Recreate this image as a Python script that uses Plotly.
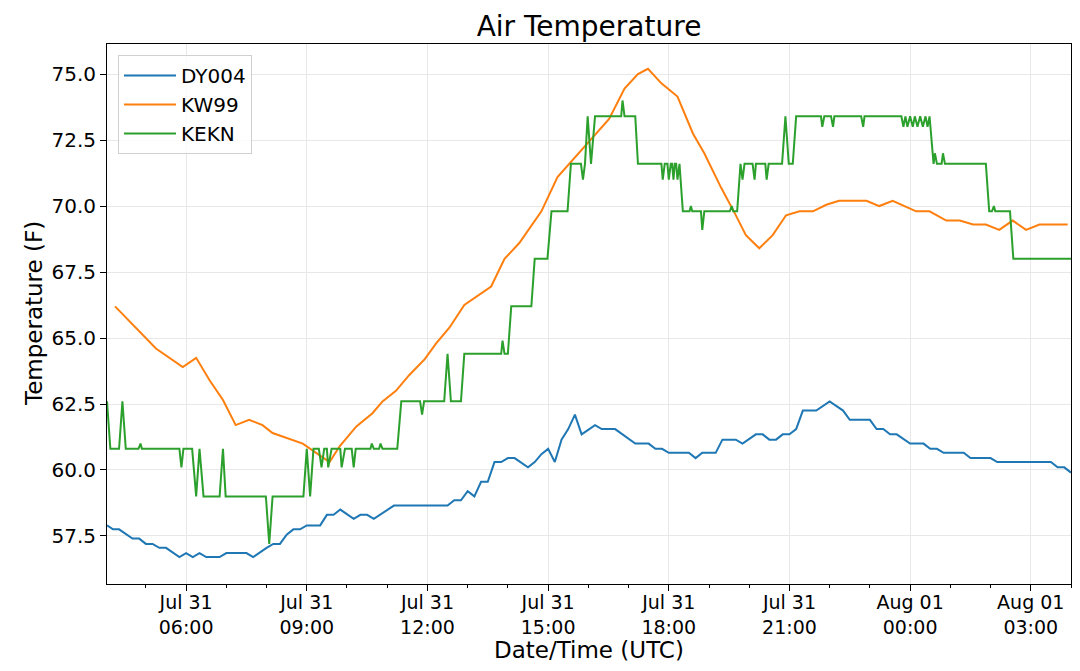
import plotly.graph_objects as go

# ---------------- data ----------------
dy004_time = [
    "2019-07-31 04:02", "2019-07-31 04:11", "2019-07-31 04:20", "2019-07-31 04:40", "2019-07-31 04:50",
    "2019-07-31 05:00", "2019-07-31 05:10", "2019-07-31 05:20", "2019-07-31 05:30", "2019-07-31 05:50",
    "2019-07-31 06:00", "2019-07-31 06:10", "2019-07-31 06:20", "2019-07-31 06:30", "2019-07-31 06:50",
    "2019-07-31 07:00", "2019-07-31 07:30", "2019-07-31 07:40", "2019-07-31 08:00", "2019-07-31 08:10",
    "2019-07-31 08:20", "2019-07-31 08:30", "2019-07-31 08:40", "2019-07-31 08:50", "2019-07-31 09:00",
    "2019-07-31 09:20", "2019-07-31 09:30", "2019-07-31 09:40", "2019-07-31 09:50", "2019-07-31 10:10",
    "2019-07-31 10:20", "2019-07-31 10:30", "2019-07-31 10:40", "2019-07-31 11:10", "2019-07-31 12:30",
    "2019-07-31 12:40", "2019-07-31 12:50", "2019-07-31 13:00", "2019-07-31 13:10", "2019-07-31 13:20",
    "2019-07-31 13:30", "2019-07-31 13:40", "2019-07-31 13:50", "2019-07-31 14:00", "2019-07-31 14:10",
    "2019-07-31 14:30", "2019-07-31 14:40", "2019-07-31 14:50", "2019-07-31 15:00", "2019-07-31 15:10",
    "2019-07-31 15:20", "2019-07-31 15:30", "2019-07-31 15:40", "2019-07-31 15:50", "2019-07-31 16:10",
    "2019-07-31 16:20", "2019-07-31 16:40", "2019-07-31 17:10", "2019-07-31 17:30", "2019-07-31 17:40",
    "2019-07-31 17:50", "2019-07-31 18:00", "2019-07-31 18:30", "2019-07-31 18:40", "2019-07-31 18:50",
    "2019-07-31 19:10", "2019-07-31 19:20", "2019-07-31 19:40", "2019-07-31 19:50", "2019-07-31 20:10",
    "2019-07-31 20:20", "2019-07-31 20:30", "2019-07-31 20:40", "2019-07-31 20:50", "2019-07-31 21:00",
    "2019-07-31 21:10", "2019-07-31 21:20", "2019-07-31 21:40", "2019-07-31 22:00", "2019-07-31 22:20",
    "2019-07-31 22:30", "2019-07-31 23:00", "2019-07-31 23:10", "2019-07-31 23:20", "2019-07-31 23:30",
    "2019-07-31 23:40", "2019-08-01 00:00", "2019-08-01 00:20", "2019-08-01 00:30", "2019-08-01 00:40",
    "2019-08-01 00:50", "2019-08-01 01:20", "2019-08-01 01:30", "2019-08-01 02:00", "2019-08-01 02:10",
    "2019-08-01 03:30", "2019-08-01 03:40", "2019-08-01 03:50", "2019-08-01 04:00",
]
dy004_temp = [
    57.9, 57.75, 57.75, 57.4, 57.4,
    57.2, 57.2, 57.05, 57.05, 56.7,
    56.85, 56.7, 56.85, 56.7, 56.7,
    56.85, 56.85, 56.7, 57.05, 57.2,
    57.2, 57.55, 57.75, 57.75, 57.9,
    57.9, 58.3, 58.3, 58.5, 58.15,
    58.3, 58.3, 58.15, 58.65, 58.65,
    58.85, 58.85, 59.2, 59.0, 59.55,
    59.55, 60.3, 60.3, 60.45, 60.45,
    60.1, 60.3, 60.6, 60.8, 60.3,
    61.15, 61.55, 62.1, 61.35, 61.7,
    61.55, 61.55, 61.0, 61.0, 60.8,
    60.8, 60.65, 60.65, 60.45, 60.65,
    60.65, 61.15, 61.15, 61.0, 61.35,
    61.35, 61.15, 61.15, 61.35, 61.35,
    61.55, 62.25, 62.25, 62.6, 62.25,
    61.9, 61.9, 61.55, 61.55, 61.35,
    61.35, 61.0, 61.0, 60.8, 60.8,
    60.65, 60.65, 60.45, 60.45, 60.3,
    60.3, 60.1, 60.1, 59.9,
]

kw99_time = [
    "2019-07-31 04:14", "2019-07-31 05:15", "2019-07-31 05:55", "2019-07-31 06:15", "2019-07-31 06:35",
    "2019-07-31 06:55", "2019-07-31 07:14", "2019-07-31 07:34", "2019-07-31 07:54", "2019-07-31 08:09",
    "2019-07-31 08:54", "2019-07-31 09:34", "2019-07-31 09:49", "2019-07-31 10:14", "2019-07-31 10:38",
    "2019-07-31 10:53", "2019-07-31 11:13", "2019-07-31 11:33", "2019-07-31 11:56", "2019-07-31 12:13",
    "2019-07-31 12:33", "2019-07-31 12:55", "2019-07-31 13:35", "2019-07-31 13:55", "2019-07-31 14:17",
    "2019-07-31 14:50", "2019-07-31 15:14", "2019-07-31 15:37", "2019-07-31 15:52", "2019-07-31 16:11",
    "2019-07-31 16:31", "2019-07-31 16:54", "2019-07-31 17:14", "2019-07-31 17:29", "2019-07-31 17:49",
    "2019-07-31 18:13", "2019-07-31 18:36", "2019-07-31 18:53", "2019-07-31 19:18", "2019-07-31 19:38",
    "2019-07-31 19:55", "2019-07-31 20:15", "2019-07-31 20:35", "2019-07-31 20:55", "2019-07-31 21:15",
    "2019-07-31 21:35", "2019-07-31 21:55", "2019-07-31 22:14", "2019-07-31 22:55", "2019-07-31 23:14",
    "2019-07-31 23:34", "2019-08-01 00:09", "2019-08-01 00:29", "2019-08-01 00:54", "2019-08-01 01:14",
    "2019-08-01 01:34", "2019-08-01 01:53", "2019-08-01 02:13", "2019-08-01 02:33", "2019-08-01 02:53",
    "2019-08-01 03:13", "2019-08-01 03:55",
]
kw99_temp = [
    66.2, 64.6, 63.9, 64.25, 63.4,
    62.65, 61.7, 61.9, 61.7, 61.4,
    61.0, 60.3, 60.9, 61.65, 62.15,
    62.6, 63.0, 63.6, 64.2, 64.8,
    65.4, 66.25, 66.95, 68.0, 68.6,
    69.8, 71.1, 71.75, 72.2, 72.7,
    73.3, 74.45, 75.0, 75.2, 74.65,
    74.15, 72.75, 72.0, 70.7, 69.75,
    68.9, 68.4, 68.9, 69.65, 69.8,
    69.8, 70.05, 70.2, 70.2, 70.0,
    70.2, 69.8, 69.8, 69.45, 69.45,
    69.3, 69.3, 69.1, 69.45, 69.1,
    69.3, 69.3,
]

kekn_time = [
    "2019-07-31 04:02", "2019-07-31 04:07", "2019-07-31 04:20", "2019-07-31 04:25", "2019-07-31 04:30", "2019-07-31 04:49", "2019-07-31 04:52", "2019-07-31 04:54",
    "2019-07-31 05:50", "2019-07-31 05:53", "2019-07-31 05:56", "2019-07-31 06:09", "2019-07-31 06:15", "2019-07-31 06:20", "2019-07-31 06:26", "2019-07-31 06:50",
    "2019-07-31 06:55", "2019-07-31 06:59", "2019-07-31 07:59", "2019-07-31 08:04", "2019-07-31 08:09", "2019-07-31 08:55", "2019-07-31 09:00", "2019-07-31 09:05",
    "2019-07-31 09:10", "2019-07-31 09:18", "2019-07-31 09:22", "2019-07-31 09:26", "2019-07-31 09:30", "2019-07-31 09:32", "2019-07-31 09:37", "2019-07-31 09:50",
    "2019-07-31 09:52", "2019-07-31 09:57", "2019-07-31 10:07", "2019-07-31 10:10", "2019-07-31 10:13", "2019-07-31 10:35", "2019-07-31 10:37", "2019-07-31 10:40",
    "2019-07-31 10:48", "2019-07-31 10:50", "2019-07-31 10:53", "2019-07-31 11:15", "2019-07-31 11:21", "2019-07-31 11:49", "2019-07-31 11:52", "2019-07-31 11:55",
    "2019-07-31 12:25", "2019-07-31 12:30", "2019-07-31 12:35", "2019-07-31 12:50", "2019-07-31 12:55", "2019-07-31 13:50", "2019-07-31 13:52", "2019-07-31 13:55",
    "2019-07-31 14:00", "2019-07-31 14:05", "2019-07-31 14:35", "2019-07-31 14:40", "2019-07-31 14:59", "2019-07-31 15:05", "2019-07-31 15:29", "2019-07-31 15:34",
    "2019-07-31 15:49", "2019-07-31 15:52", "2019-07-31 15:55", "2019-07-31 15:59", "2019-07-31 16:04", "2019-07-31 16:10", "2019-07-31 16:49", "2019-07-31 16:51",
    "2019-07-31 16:54", "2019-07-31 17:10", "2019-07-31 17:14", "2019-07-31 17:49", "2019-07-31 17:51", "2019-07-31 17:54", "2019-07-31 17:58", "2019-07-31 18:00",
    "2019-07-31 18:03", "2019-07-31 18:05", "2019-07-31 18:07", "2019-07-31 18:09", "2019-07-31 18:11", "2019-07-31 18:13", "2019-07-31 18:16", "2019-07-31 18:21",
    "2019-07-31 18:31", "2019-07-31 18:33", "2019-07-31 18:35", "2019-07-31 18:48", "2019-07-31 18:50", "2019-07-31 18:53", "2019-07-31 19:31", "2019-07-31 19:34",
    "2019-07-31 19:36", "2019-07-31 19:42", "2019-07-31 19:47", "2019-07-31 19:50", "2019-07-31 19:53", "2019-07-31 20:05", "2019-07-31 20:08", "2019-07-31 20:10",
    "2019-07-31 20:24", "2019-07-31 20:26", "2019-07-31 20:29", "2019-07-31 20:49", "2019-07-31 20:54", "2019-07-31 20:59", "2019-07-31 21:05", "2019-07-31 21:10",
    "2019-07-31 21:47", "2019-07-31 21:49", "2019-07-31 21:52", "2019-07-31 22:02", "2019-07-31 22:05", "2019-07-31 22:07", "2019-07-31 22:47", "2019-07-31 22:50",
    "2019-07-31 22:52", "2019-07-31 23:47", "2019-07-31 23:50", "2019-07-31 23:53", "2019-07-31 23:56", "2019-08-01 00:00", "2019-08-01 00:04", "2019-08-01 00:07",
    "2019-08-01 00:11", "2019-08-01 00:15", "2019-08-01 00:19", "2019-08-01 00:23", "2019-08-01 00:26", "2019-08-01 00:29", "2019-08-01 00:35", "2019-08-01 00:37",
    "2019-08-01 00:40", "2019-08-01 00:47", "2019-08-01 00:49", "2019-08-01 00:52", "2019-08-01 01:53", "2019-08-01 01:58", "2019-08-01 02:02", "2019-08-01 02:05",
    "2019-08-01 02:07", "2019-08-01 02:29", "2019-08-01 02:34", "2019-08-01 04:00",
]
kekn_temp = [
    62.6, 60.8, 60.8, 62.6, 60.8, 60.8, 61.0, 60.8,
    60.8, 60.1, 60.8, 60.8, 59.0, 60.8, 59.0, 59.0,
    60.8, 59.0, 59.0, 57.2, 59.0, 59.0, 60.8, 59.0,
    60.8, 60.8, 60.1, 60.8, 60.8, 60.1, 60.8, 60.8,
    60.1, 60.8, 60.8, 60.1, 60.8, 60.8, 61.0, 60.8,
    60.8, 61.0, 60.8, 60.8, 62.6, 62.6, 62.1, 62.6,
    62.6, 64.4, 62.6, 62.6, 64.4, 64.4, 64.9, 64.4,
    64.4, 66.2, 66.2, 68.0, 68.0, 69.8, 69.8, 71.6,
    71.6, 71.0, 71.6, 73.4, 71.6, 73.4, 73.4, 74.0,
    73.4, 73.4, 71.6, 71.6, 71.0, 71.6, 71.6, 71.0,
    71.6, 71.6, 71.0, 71.6, 71.6, 71.0, 71.6, 69.8,
    69.8, 70.0, 69.8, 69.8, 69.1, 69.8, 69.8, 70.0,
    69.8, 69.8, 71.6, 71.0, 71.6, 71.6, 71.0, 71.6,
    71.6, 71.0, 71.6, 71.6, 73.4, 71.6, 71.6, 73.4,
    73.4, 73.0, 73.4, 73.4, 73.0, 73.4, 73.4, 73.0,
    73.4, 73.4, 73.0, 73.4, 73.0, 73.4, 73.0, 73.4,
    73.0, 73.4, 73.0, 73.4, 73.0, 73.4, 71.6, 72.0,
    71.6, 71.6, 72.0, 71.6, 71.6, 69.8, 69.8, 70.0,
    69.8, 69.8, 68.0, 68.0,
]

x_tick_vals = [
    "2019-07-31 06:00", "2019-07-31 09:00", "2019-07-31 12:00", "2019-07-31 15:00",
    "2019-07-31 18:00", "2019-07-31 21:00", "2019-08-01 00:00", "2019-08-01 03:00",
]
x_tick_text = [
    "Jul 31<br>06:00", "Jul 31<br>09:00", "Jul 31<br>12:00", "Jul 31<br>15:00",
    "Jul 31<br>18:00", "Jul 31<br>21:00", "Aug 01<br>00:00", "Aug 01<br>03:00",
]
y_tick_vals = [57.5, 60.0, 62.5, 65.0, 67.5, 70.0, 72.5, 75.0]

series_names = ["DY004", "KW99", "KEKN"]
series_colors = ["#1f77b4", "#ff7f0e", "#2ca02c"]

# ---------------- figure ----------------
W, H = 1080, 671
L, R, T, B = 107, 9, 44, 87
FONT = "DejaVu Sans"

fig = go.Figure()
for name, color, xs, ys in zip(series_names, series_colors,
                               [dy004_time, kw99_time, kekn_time],
                               [dy004_temp, kw99_temp, kekn_temp]):
    fig.add_trace(go.Scatter(x=xs, y=ys, mode="lines", name=name,
                             line=dict(color=color, width=2)))

plot_w = W - L - R
plot_h = H - T - B

fig.update_layout(
    width=W, height=H,
    margin=dict(l=L, r=R, t=T, b=B, autoexpand=False),
    paper_bgcolor="white", plot_bgcolor="white",
    font=dict(family=FONT, color="black", size=20),
    title=dict(text="Air Temperature", x=0.5, xref="paper", xanchor="center",
               y=1 - 26 / H, yref="container", yanchor="middle",
               font=dict(family=FONT, size=28, color="black")),
    showlegend=True,
    legend=dict(x=11 / plot_w, y=1 - 11 / plot_h, xanchor="left", yanchor="top",
                bgcolor="rgba(255,255,255,0.8)", bordercolor="#d0d0d0", borderwidth=1,
                font=dict(family=FONT, size=20, color="black"),
                tracegroupgap=0, itemwidth=52),
    xaxis=dict(
        type="date",
        range=["2019-07-31 04:02", "2019-08-01 04:00"],
        tickmode="array", tickvals=x_tick_vals, ticktext=x_tick_text,
        ticks="outside", ticklen=6, tickwidth=1, tickcolor="black",
        tickfont=dict(family=FONT, size=19, color="black"),
        ticklabelstandoff=-5,
        showgrid=True, gridcolor="#e8e8e8", gridwidth=1,
        showline=True, linecolor="black", linewidth=1, mirror=True,
        zeroline=False, automargin=False,
        minor=dict(dtick=3600000, tick0="2019-07-31 00:00", ticks="outside",
                   ticklen=3, tickcolor="black", showgrid=False),
    ),
    yaxis=dict(
        range=[55.68, 76.14],
        tickmode="array", tickvals=y_tick_vals, tickformat=".1f",
        ticks="outside", ticklen=6, tickwidth=1, tickcolor="black",
        tickfont=dict(family=FONT, size=20, color="black"),
        showgrid=True, gridcolor="#e8e8e8", gridwidth=1,
        showline=True, linecolor="black", linewidth=1, mirror=True,
        zeroline=False, automargin=False,
    ),
    annotations=[
        dict(text="Date/Time (UTC)", xref="paper", yref="paper",
             x=0.5, y=-(650 - (H - B)) / plot_h, xanchor="center", yanchor="middle",
             showarrow=False, font=dict(family=FONT, size=23, color="black")),
        dict(text="Temperature (F)", xref="paper", yref="paper",
             x=-(L - 34) / plot_w, y=0.5, xanchor="center", yanchor="middle",
             textangle=-90, showarrow=False,
             font=dict(family=FONT, size=23, color="black")),
    ],
)

fig.write_html(
    "out.html",
    config={"displayModeBar": False},
    post_script="document.body.style.margin='0';document.body.style.padding='0';"
                "document.body.style.overflow='hidden';",
)
